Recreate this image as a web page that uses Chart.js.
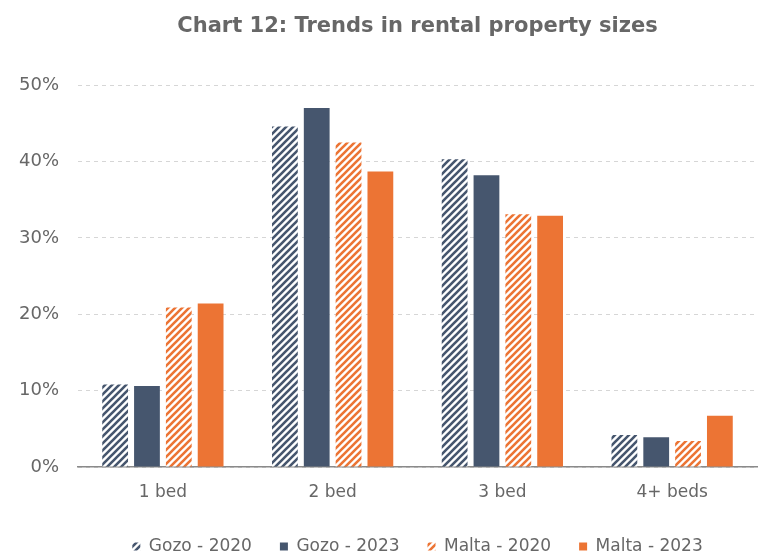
<!DOCTYPE html>
<html>
<head>
<meta charset="utf-8">
<script src="https://cdn.jsdelivr.net/npm/chart.js@4/dist/chart.umd.min.js"></script>
<style>
  html, body { margin: 0; padding: 0; background: #fff; }
  #wrap { width: 767px; height: 554px; }
</style>
</head>
<body>
<div id="wrap"><canvas id="c" width="767" height="554"></canvas></div>
<script>
const categories = ['1 bed', '2 bed', '3 bed', '4+ beds'];
const gozo2020 = [10.8, 44.6, 40.3, 4.2];
const gozo2023 = [10.6, 47.0, 38.2, 3.9];
const malta2020 = [20.9, 42.5, 33.1, 3.4];
const malta2023 = [21.4, 38.7, 32.9, 6.7];
const yTicks = [0, 10, 20, 30, 40, 50];

const SLATE = '#46566e';
const ORANGE = '#ec7434';

// diagonal stripe fill for the 2020 series
function stripes(color) {
  const s = 7;
  const cv = document.createElement('canvas');
  cv.width = s; cv.height = s;
  const g = cv.getContext('2d');
  g.fillStyle = '#ffffff';
  g.fillRect(0, 0, s, s);
  g.strokeStyle = color;
  g.lineWidth = 2.6;
  g.beginPath();
  for (let k = -1; k <= 1; k++) {
    g.moveTo(k * s - 1, s + 1);
    g.lineTo(k * s + s + 1, -1);
  }
  g.stroke();
  return g.createPattern(cv, 'repeat');
}
const ctx = document.getElementById('c').getContext('2d');
const slateStripes = stripes(SLATE);
const orangeStripes = stripes(ORANGE);

const FONT = "'DejaVu Sans', sans-serif";
const TEXT = '#676767';

new Chart(ctx, {
  type: 'bar',
  data: {
    labels: categories,
    datasets: [
      { label: 'Gozo - 2020', data: gozo2020, backgroundColor: slateStripes, borderWidth: 0 },
      { label: 'Gozo - 2023', data: gozo2023, backgroundColor: SLATE, borderWidth: 0 },
      { label: 'Malta - 2020', data: malta2020, backgroundColor: orangeStripes, borderWidth: 0 },
      { label: 'Malta - 2023', data: malta2023, backgroundColor: ORANGE, borderWidth: 0 }
    ]
  },
  options: {
    responsive: false,
    animation: false,
    devicePixelRatio: 1,
    layout: { padding: { left: 0, right: 10, top: 6, bottom: -11 } },
    datasets: { bar: { categoryPercentage: 0.75, barPercentage: 0.81 } },
    plugins: {
      title: {
        display: true,
        fullSize: false,
        text: 'Chart 12: Trends in rental property sizes',
        color: TEXT,
        font: { family: FONT, size: 21, weight: 'bold' },
        padding: { top: 8, bottom: 46 }
      },
      legend: {
        position: 'bottom',
        fullSize: false,
        labels: {
          color: TEXT,
          font: { family: FONT, size: 17 },
          boxWidth: 8,
          boxHeight: 8,
          padding: 28
        }
      },
      tooltip: { enabled: false }
    },
    scales: {
      x: {
        grid: { display: false, drawTicks: false },
        border: { display: true, color: '#8a8a8a', width: 1.5 },
        ticks: { color: TEXT, font: { family: FONT, size: 17 }, padding: 15 },
        afterFit: (scale) => { scale.height = 43; }
      },
      y: {
        min: 0,
        max: 50,
        afterBuildTicks: (axis) => { axis.ticks = yTicks.map(v => ({ value: v })); },
        grid: { color: '#d6d6d6', lineWidth: 1, drawTicks: false },
        border: { display: false, dash: [4, 4] },
        ticks: {
          color: TEXT,
          font: { family: FONT, size: 18 },
          padding: 19,
          callback: (v) => v + '%'
        }
      }
    }
  }
});
</script>
</body>
</html>
